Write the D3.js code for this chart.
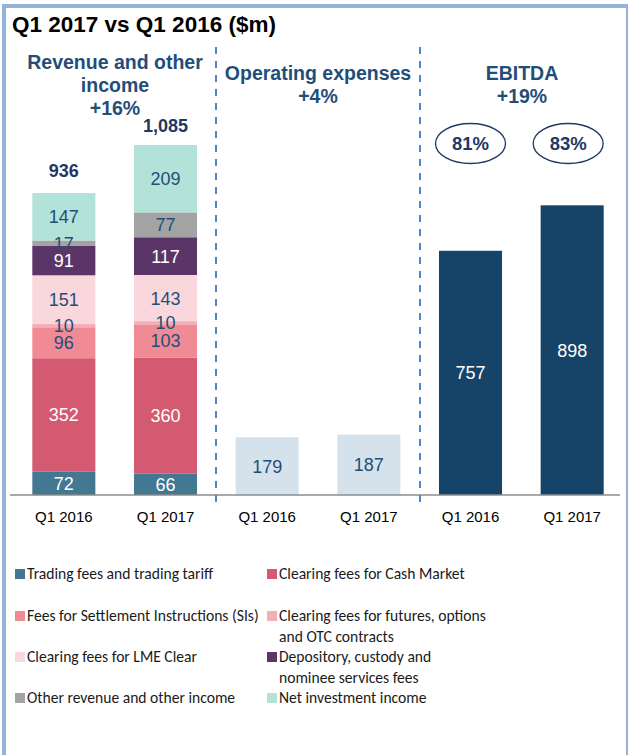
<!DOCTYPE html>
<html>
<head>
<meta charset="utf-8">
<script src="https://cdn.jsdelivr.net/npm/d3@7"></script>
<style>
  body { margin: 0; background: #fff; }
  svg { display: block; }
  svg text { font-family: "Liberation Sans", Arial, Helvetica, sans-serif; }
  svg text.legend { font-family: Carlito, Calibri, Lato, sans-serif; }
</style>
</head>
<body>
<svg width="629" height="755"></svg>
<script>
const periods = ['Q1 2016', 'Q1 2017'];
const segments = [
  'Trading fees and trading tariff',
  'Clearing fees for Cash Market',
  'Fees for Settlement Instructions (SIs)',
  'Clearing fees for futures, options and OTC contracts',
  'Clearing fees for LME Clear',
  'Depository, custody and nominee services fees',
  'Other revenue and other income',
  'Net investment income',
];
const revenue2016 = [72, 352, 96, 10, 151, 91, 17, 147];
const revenue2017 = [66, 360, 103, 10, 143, 117, 77, 209];
const revenueTotals = ['936', '1,085'];
const opex = [179, 187];
const ebitda = [757, 898];
const ebitdaMargin = ['81%', '83%'];
const legendLines = [
  ['Trading fees and trading tariff'],
  ['Clearing fees for Cash Market'],
  ['Fees for Settlement Instructions (SIs)'],
  ['Clearing fees for futures, options', 'and OTC contracts'],
  ['Clearing fees for LME Clear'],
  ['Depository, custody and', 'nominee services fees'],
  ['Other revenue and other income'],
  ['Net investment income'],
];

const colors = ['#427891', '#d45a72', '#f08a95', '#f4afb6', '#fad7dc', '#5c3568', '#a3a3a3', '#b3e3d8'];
const whiteText = [true, true, false, false, false, true, false, false];
const navy = '#1f4e79';

const svg = d3.select('svg');

// frame
svg.append('rect').attr('x', 2).attr('y', 4).attr('width', 625).attr('height', 4).attr('fill', '#95b3d7');
svg.append('rect').attr('x', 2).attr('y', 4).attr('width', 4).attr('height', 751).attr('fill', '#95b3d7');
svg.append('rect').attr('x', 626).attr('y', 4).attr('width', 2).attr('height', 751).attr('fill', '#95b3d7');

svg.append('text')
  .attr('x', 12).attr('y', 32)
  .attr('font-size', 22.5).attr('font-weight', 'bold')
  .text('Q1 2017 vs Q1 2016 ($m)');

const baseline = 495;
const y = d3.scaleLinear().domain([0, 1000]).range([baseline, baseline - 322.6]);

const groups = ['rev', 'opex', 'ebitda'];
const x = d3.scaleBand()
  .domain(groups.flatMap(g => periods.map(p => g + p)))
  .range([13, 623])
  .paddingInner(0.38)
  .paddingOuter(0.19);

// stacked revenue bars
const revData = [revenue2016, revenue2017];
revData.forEach((vals, pi) => {
  let acc = 0;
  const bx = x('rev' + periods[pi]);
  vals.forEach((v, si) => {
    const y0 = acc, y1 = acc + v;
    acc = y1;
    svg.append('rect')
      .attr('x', bx).attr('width', x.bandwidth())
      .attr('y', y(y1)).attr('height', y(y0) - y(y1))
      .attr('fill', colors[si]);
  });
  acc = 0;
  vals.forEach((v, si) => {
    const y0 = acc, y1 = acc + v;
    acc = y1;
    svg.append('text')
      .attr('x', bx + x.bandwidth() / 2)
      .attr('y', (y(y0) + y(y1)) / 2 + 6.5)
      .attr('text-anchor', 'middle')
      .attr('fill', whiteText[si] ? '#fff' : navy)
      .attr('font-size', 18)
      .text(v);
  });
  svg.append('text')
    .attr('x', bx + x.bandwidth() / 2)
    .attr('y', y(acc) - (pi === 0 ? 16 : 13))
    .attr('text-anchor', 'middle')
    .attr('fill', '#1f3864')
    .attr('font-size', 18).attr('font-weight', 'bold')
    .text(revenueTotals[pi]);
});

// opex and ebitda
[['opex', opex, '#d6e2eb', navy], ['ebitda', ebitda, '#164368', '#fff']].forEach(([g, vals, fill, tc]) => {
  vals.forEach((v, pi) => {
    const bx = x(g + periods[pi]);
    svg.append('rect')
      .attr('x', bx).attr('width', x.bandwidth())
      .attr('y', y(v)).attr('height', y(0) - y(v))
      .attr('fill', fill);
    svg.append('text')
      .attr('x', bx + x.bandwidth() / 2)
      .attr('y', (y(0) + y(v)) / 2 + 6.5)
      .attr('text-anchor', 'middle')
      .attr('fill', tc)
      .attr('font-size', 18)
      .text(v);
  });
});

// margin ellipses
ebitdaMargin.forEach((m, pi) => {
  const cx = x('ebitda' + periods[pi]) + x.bandwidth() / 2 - pi * 4;
  svg.append('ellipse')
    .attr('cx', cx).attr('cy', 143.5).attr('rx', 35).attr('ry', 20)
    .attr('fill', 'none').attr('stroke', '#1f3864').attr('stroke-width', 1.3);
  svg.append('text')
    .attr('x', cx).attr('y', 150)
    .attr('text-anchor', 'middle')
    .attr('fill', '#1f3864')
    .attr('font-size', 18.5).attr('font-weight', 'bold')
    .text(m);
});

// axis
const xAxis = d3.axisBottom(x).tickSize(0).tickPadding(16).tickFormat(d => d.replace(/^(rev|opex|ebitda)/, ''));
const ax = svg.append('g').attr('transform', `translate(0,${baseline})`).call(xAxis);
ax.attr('font-family', null).attr('font-size', null);
ax.select('.domain').attr('stroke', '#8c8c8c').attr('stroke-width', 1.5).attr('d', 'M10,0H620');
ax.selectAll('text').attr('font-size', 15).attr('fill', '#000');

// dashed dividers
[216, 420].forEach(dx => {
  svg.append('line')
    .attr('x1', dx).attr('x2', dx).attr('y1', 47).attr('y2', 502)
    .attr('stroke', '#4a86c8').attr('stroke-width', 2)
    .attr('stroke-dasharray', '7,7');
});

// section headers
const headers = [
  { cx: 115, lines: ['Revenue and other', 'income', '+16%'], y0: 69 },
  { cx: 318, lines: ['Operating expenses', '+4%'], y0: 80 },
  { cx: 522, lines: ['EBITDA', '+19%'], y0: 80 },
];
headers.forEach(h => {
  h.lines.forEach((l, i) => {
    svg.append('text')
      .attr('x', h.cx).attr('y', h.y0 + i * 23)
      .attr('text-anchor', 'middle')
      .attr('fill', navy)
      .attr('font-size', 19.5).attr('font-weight', 'bold')
      .text(l);
  });
});

// legend
const legendPos = [
  [15, 579], [267, 579],
  [15, 621], [267, 621],
  [15, 662], [267, 662],
  [15, 703], [267, 703],
];
segments.forEach((s, i) => {
  const [lx, ly] = legendPos[i];
  svg.append('rect')
    .attr('x', lx).attr('y', ly - 10).attr('width', 10).attr('height', 10)
    .attr('fill', colors[i]);
  legendLines[i].forEach((t, j) => {
    svg.append('text')
      .attr('class', 'legend')
      .attr('x', lx + 12).attr('y', ly + j * 21)
      .attr('fill', '#1a1a1a')
      .attr('font-size', 15.6)
      .text(t);
  });
});
</script>
</body>
</html>
